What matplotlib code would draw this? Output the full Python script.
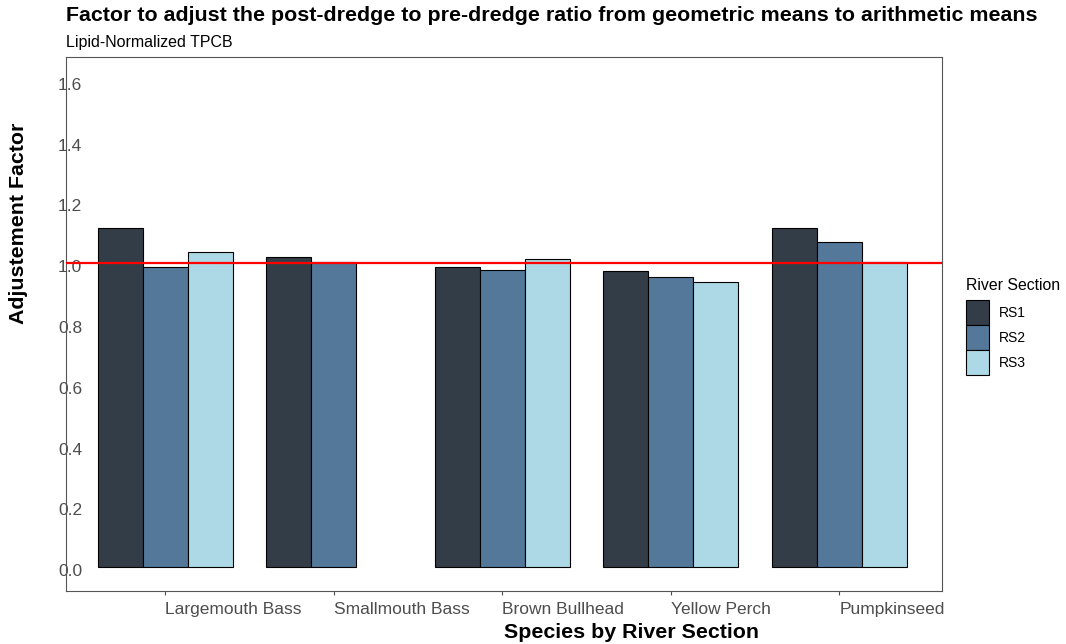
import numpy as np
import matplotlib
matplotlib.use("Agg")
import matplotlib.pyplot as plt
from matplotlib.transforms import ScaledTranslation
from matplotlib.patches import Patch

plt.rcParams['font.family'] = ['Liberation Sans', 'DejaVu Sans']

# adjustment factors per species and river section (nan = no data)
species = ["Largemouth Bass", "Smallmouth Bass", "Brown Bullhead", "Yellow Perch", "Pumpkinseed"]
sections = ["RS1", "RS2", "RS3"]
rs1 = [1.116, 1.020, 0.988, 0.974, 1.117]
rs2 = [0.988, 1.004, 0.978, 0.955, 1.071]
rs3 = [1.036, np.nan, 1.014, 0.938, 1.003]
colors = ["#333d47", "#53789a", "#add8e6"]
ref_line = 1.0
yticks = [0.0, 0.2, 0.4, 0.6, 0.8, 1.0, 1.2, 1.4, 1.6]

fig = plt.figure(figsize=(10.66, 6.44), dpi=100)
ax = fig.add_axes([66/1066, 1-591/644, 876/1066, 534/644])

x = np.arange(len(species))
w = 0.8/3
for i, (vals, c) in enumerate(zip([rs1, rs2, rs3], colors)):
    vals = np.array(vals)
    ok = ~np.isnan(vals)
    ax.bar(x[ok] + (i-1)*w, vals[ok], width=w, color=c, edgecolor="black", linewidth=0.8, zorder=2)

ax.axhline(ref_line, color="#ff0000", linewidth=1.6, zorder=3)

ax.set_xlim(-0.59, 4.61)
ax.set_ylim(-0.079, 1.679)

ax.set_xticks(x)
ax.set_xticklabels(species, ha="left", fontsize=12.5, color="#4d4d4d")
ax.tick_params(axis="x", length=3, width=0.8, color="#4d4d4d", pad=5)

ax.set_yticks(yticks)
ax.set_yticklabels([f"{v:.1f}" for v in yticks], fontsize=12.5, color="#4d4d4d")
ax.tick_params(axis="y", length=0, pad=-3)
shift = ScaledTranslation(0, -3/100, fig.dpi_scale_trans)
for lab in ax.get_yticklabels():
    lab.set_ha("center")
    lab.set_transform(lab.get_transform() + shift)

for s in ax.spines.values():
    s.set_color("#555555")
    s.set_linewidth(0.8)

ax.set_xlabel("Species by River Section", fontsize=15.4, fontweight="bold", ha="left", va="top")
ax.xaxis.set_label_coords(0.5, -0.060)
ax.set_ylabel("Adjustement Factor", fontsize=15.4, fontweight="bold", ha="left", va="bottom")
ax.yaxis.set_label_coords(-0.0434, 0.5)

fig.text(66/1066, 1-21/644, "Factor to adjust the post-dredge to pre-dredge ratio from geometric means to arithmetic means",
         fontsize=15.4, fontweight="bold", ha="left", va="baseline")
fig.text(66/1066, 1-47/644, "Lipid-Normalized TPCB", fontsize=11.5, ha="left", va="baseline")

# legend: title as its own text, keys stacked without gaps below it
fig.text(966/1066, 1-290/644, "River Section", fontsize=11.4, ha="left", va="baseline")
handles = [Patch(facecolor=c, edgecolor="black", linewidth=0.8, label=s) for c, s in zip(colors, sections)]
leg = fig.legend(handles=handles, loc="upper left",
                 bbox_to_anchor=(966/1066, 1-300/644), frameon=False, fontsize=10,
                 handlelength=1.69, handleheight=2.392, labelspacing=0,
                 handletextpad=0.65, borderpad=0, borderaxespad=0)

fig.savefig("out.png", dpi=100)
